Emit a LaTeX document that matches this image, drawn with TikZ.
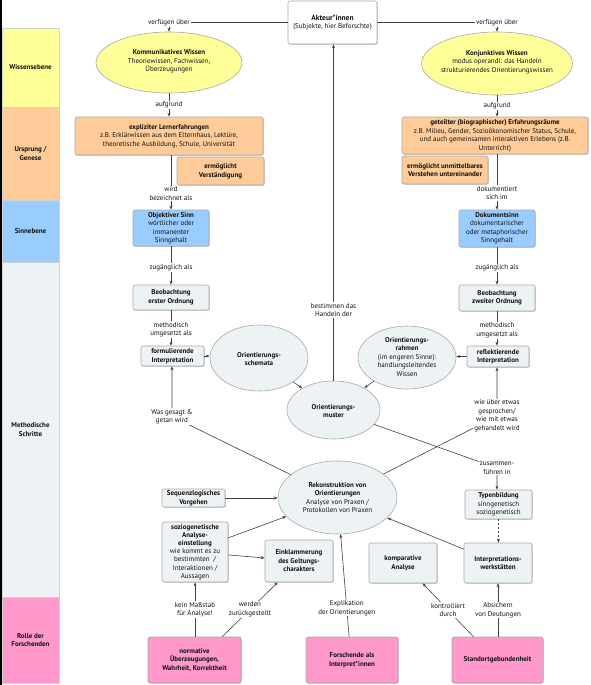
\documentclass[tikz,border=0pt]{standalone}
\usepackage{fontspec}
\setmainfont{PT Sans}
\usetikzlibrary{arrows.meta,shapes.geometric,calc,shadows}
\definecolor{cyel}{HTML}{FFFF99}
\definecolor{cpeach}{HTML}{FFCC99}
\definecolor{cblue}{HTML}{99CCFF}
\definecolor{clight}{HTML}{EDF3F5}
\definecolor{cpink}{HTML}{FF99CC}
\definecolor{cline}{HTML}{404040}
\definecolor{cborder}{HTML}{A8A8A8}
\definecolor{ctext}{HTML}{111111}
\begin{document}
\begin{tikzpicture}[x=1pt,y=-1pt,
  font=\fontsize{7}{8.5}\selectfont, text=ctext,
  box/.style={draw=cborder, rounded corners=2pt, align=center, inner sep=1pt, line width=0.6pt,
    drop shadow={shadow xshift=0.8pt, shadow yshift=-0.8pt, opacity=0.35, fill=gray}},
  ell/.style={ellipse, draw=cborder, inner sep=0pt, line width=0.6pt},
  etext/.style={align=center, inner sep=0pt},
  band/.style={draw=gray!35, inner sep=0pt, align=center, font=\fontsize{7}{8.5}\selectfont\bfseries},
  lbl/.style={fill=white, align=center, inner sep=1pt},
  arr/.style={draw=cline, line width=0.6pt, -{Stealth[length=4pt,width=3pt]}},
  con/.style={draw=cline, line width=0.6pt},
]
\useasboundingbox (0,0) rectangle (590,685);
\fill[white] (0,0) rectangle (590,685);
\draw[black, line width=1.5pt] (0.75,0) -- (0.75,685);

% left bands
\node[band, fill=cyel,   minimum width=57pt, minimum height=79pt]  (b1) at (30.5,67.5)  {Wissensebene};
\node[band, fill=cpeach, minimum width=57pt, minimum height=93pt]  (b2) at (30.5,153.5) {Ursprung /\\Genese};
\node[band, fill=cblue,  minimum width=57pt, minimum height=62pt]  (b3) at (30.5,231)   {Sinnebene};
\node[band, fill=clight, minimum width=57pt, minimum height=335pt] (b4) at (30.5,429.5) {Methodische\\Schritte};
\node[band, fill=cpink,  minimum width=57pt, minimum height=86pt]  (b5) at (30.5,640)   {Rolle der\\Forschenden};

% top
\node[box, fill=white, minimum width=89pt, minimum height=43pt] (akt) at (332.5,22.5)
  {{\fontsize{7.5}{9}\selectfont\textbf{Akteur*innen}}\\(Subjekte, hier Beforschte)};

\node[ell, fill=cyel, minimum width=146pt, minimum height=61pt] (kom) at (169,62.5) {};
\node[etext] (komT) at (169,61.5) {\textbf{Kommunikatives Wissen}\\Theoriewissen, Fachwissen,\\Überzeugungen};
\node[ell, fill=cyel, minimum width=151pt, minimum height=63pt] (konj) at (497,63.5) {};
\node[etext] (konjT) at (497,62) {\textbf{Konjunktives Wissen}\\modus operandi: das Handeln\\strukturierendes Orientierungswissen};

% Ursprung
\node[box, fill=cpeach, minimum width=188pt, minimum height=38pt] (expl) at (169,136)
  {\textbf{expliziter Lernerfahrungen}\\z.B. Erklärwissen aus dem Elternhaus, Lektüre,\\theoretische Ausbildung, Schule, Universität};
\node[box, fill=cpeach, minimum width=87pt, minimum height=28pt] (ermV) at (220.5,171)
  {\textbf{ermöglicht}\\\textbf{Verständigung}};
\node[box, fill=cpeach, minimum width=186pt, minimum height=37pt] (get) at (495,135.5)
  {\textbf{geteilter (biographischer) Erfahrungsräume}\\z.B. Milieu, Gender, Sozioökonomischer Status, Schule,\\und auch gemeinsamen interaktiven Erlebens (z.B.\\Unterricht)};
\node[box, fill=cpeach, minimum width=86pt, minimum height=28pt] (ermU) at (445,170)
  {\textbf{ermöglicht unmittelbares}\\\textbf{Verstehen untereinander}};

% Sinnebene
\node[box, fill=cblue, minimum width=76pt, minimum height=36pt] (obj) at (171,228)
  {\textbf{Objektiver Sinn}\\wörtlicher oder\\immanenter\\Sinngehalt};
\node[box, fill=cblue, minimum width=76pt, minimum height=37pt] (dok) at (497,228.5)
  {\textbf{Dokumentsinn}\\dokumentarischer\\oder metaphorischer\\Sinngehalt};

% Methodische Schritte
\node[box, fill=clight, minimum width=76pt, minimum height=25pt] (beo1) at (171,297.5)
  {\textbf{Beobachtung}\\\textbf{erster Ordnung}};
\node[box, fill=clight, minimum width=76pt, minimum height=26pt] (beo2) at (497,298)
  {\textbf{Beobachtung}\\\textbf{zweiter Ordnung}};
\node[box, fill=clight, minimum width=63pt, minimum height=20pt] (form) at (172.5,356)
  {\textbf{formulierende}\\\textbf{Interpretation}};
\node[box, fill=clight, minimum width=62pt, minimum height=21pt] (refl) at (498,356.5)
  {\textbf{reflektierende}\\\textbf{Interpretation}};

\node[ell, fill=clight, minimum width=98pt, minimum height=66pt] (schem) at (259,358) {};
\node[etext] (schemT) at (259,359) {\textbf{Orientierungs-}\\\textbf{schemata}};
\node[ell, fill=clight, minimum width=98pt, minimum height=63pt] (rahmen) at (407,357.5) {};
\node[etext] (rahmenT) at (407,357) {\textbf{Orientierungs-}\\\textbf{rahmen}\\(im engeren Sinne):\\handlungsleitendes\\Wissen};
\node[ell, fill=clight, minimum width=93pt, minimum height=58pt] (muster) at (333.5,410) {};
\node[etext] (musterT) at (333.5,411) {\textbf{Orientierungs-}\\\textbf{muster}};

\node[ell, fill=clight, minimum width=119pt, minimum height=73pt] (rek) at (337.5,497.5) {};
\node[etext] (rekT) at (337.5,497.5) {\textbf{Rekonstruktion von}\\\textbf{Orientierungen}\\Analyse von Praxen /\\Protokollen von Praxen};

\node[box, fill=clight, minimum width=67pt, minimum height=29pt] (typ) at (498.5,504.5)
  {\textbf{Typenbildung}\\sinngenetisch\\soziogenetisch};
\node[box, fill=clight, minimum width=63pt, minimum height=18pt] (seq) at (193.5,498)
  {\textbf{Sequenzlogisches}\\\textbf{Vorgehen}};
\node[box, fill=clight, minimum width=66pt, minimum height=60pt, font=\fontsize{7}{8.2}\selectfont] (sozio) at (195,552)
  {\textbf{soziogenetische}\\\textbf{Analyse-}\\\textbf{einstellung}\\wie kommt es zu\\bestimmten~~/\\Interaktionen /\\Aussagen};
\node[box, fill=clight, minimum width=68pt, minimum height=42pt] (einkl) at (299,561)
  {\textbf{Einklammerung}\\\textbf{des Geltungs-}\\\textbf{charakters}};
\node[box, fill=clight, minimum width=68pt, minimum height=40pt] (komp) at (403,563)
  {\textbf{komparative}\\\textbf{Analyse}};
\node[box, fill=clight, minimum width=68pt, minimum height=40pt] (iws) at (498,563)
  {\textbf{Interpretations-}\\\textbf{werkstätten}};

% Rolle
\node[box, fill=cpink, minimum width=93pt, minimum height=46pt] (norm) at (194.5,660)
  {\textbf{normative}\\\textbf{Überzeugungen,}\\\textbf{Wahrheit, Korrektheit}};
\node[box, fill=cpink, minimum width=92pt, minimum height=46pt] (forsch) at (352,660)
  {\textbf{Forschende als}\\\textbf{Interpret*innen}};
\node[box, fill=cpink, minimum width=91pt, minimum height=46pt] (stand) at (497.5,660)
  {\textbf{Standortgebundenheit}};

% connectors
\draw[arr] (akt.west) -| node[lbl, pos=0.5] (l1) {verfügen über} (kom.north);
\draw[arr] (akt.east) -| node[lbl, pos=0.5] (l2) {verfügen über} (konj.north);
\draw[arr] (kom.south) -- node[lbl] (l3) {aufgrund} (expl.north);
\draw[arr] (konj.south) -- node[lbl] (l4) {aufgrund} (konj.south |- get.north);
\draw[arr] (obj.north |- expl.south) -- node[lbl, pos=0.7] (l5) {wird\\bezeichnet als} (obj.north);
\draw[arr] (dok.north |- get.south) -- node[lbl, pos=0.7] (l6) {dokumentiert\\sich im} (dok.north);
\draw[arr] (obj.south) -- node[lbl, pos=0.55] (l7) {zugänglich als} (beo1.north);
\draw[arr] (dok.south) -- node[lbl, pos=0.55] (l8) {zugänglich als} (beo2.north);
\draw[arr] (beo1.south) -- node[lbl, pos=0.55] (l9) {methodisch\\umgesetzt als} (beo1.south |- form.north);
\draw[arr] (beo2.south) -- node[lbl, pos=0.55] (l10) {methodisch\\umgesetzt als} (beo2.south |- refl.north);
\draw[arr] (form.east) -- (form.east -| schem.west);
\draw[arr] (refl.west) -- (refl.west -| rahmen.east);
\draw[arr] (schem) -- (muster);
\draw[arr] (rahmen) -- (muster);
\draw[arr] (muster.north) -- node[lbl, pos=0.21] (l11) {bestimmen das\\Handeln der} (muster.north |- akt.south);

\coordinate (c1) at (497,468);
\coordinate (c2) at (497,416);
\coordinate (c3) at (172,416.5);
\draw[arr] (muster) -- (c1) node[lbl] (l12) {zusammen-\\führen in} -- (c1 |- typ.north);
\draw[arr] (rek) -- (c2) node[lbl] (l13) {wie über etwas\\gesprochen/\\wie mit etwas\\gehandelt wird} -- (c2 |- refl.south);
\draw[arr] (rek) -- (c3) node[lbl] (l14) {Was gesagt \&\\getan wird} -- (c3 |- form.south);

\draw[arr] (seq.east) -- (seq.east -| rek.west);
\draw[arr] (sozio.23) -- (rek);
\draw[arr] (sozio.-5) -- (einkl.175);
\draw[arr] (iws.158) -- (rek);
\draw[arr, dash pattern=on 2pt off 2pt] (typ.south) -- (typ.south |- iws.north);

\draw[arr] (sozio.south |- norm.north) -- node[lbl] (l15) {kein Maßstab\\für Analyse!} (sozio.south);
\draw[arr] (norm.40) -- node[lbl] (l16) {werden\\zurückgestellt} (einkl.-135);
\draw[arr] (forsch.97) -- node[lbl, pos=0.28] (l17) {Explikation\\der Orientierungen} (rek);
\draw[arr] (stand.136) -- node[lbl] (l18) {kontrolliert\\durch} (komp.-46);
\draw[arr] (iws.south |- stand.north) -- node[lbl] (l19) {Absichern\\von Deutungen} (iws.south);
\end{tikzpicture}
\end{document}
